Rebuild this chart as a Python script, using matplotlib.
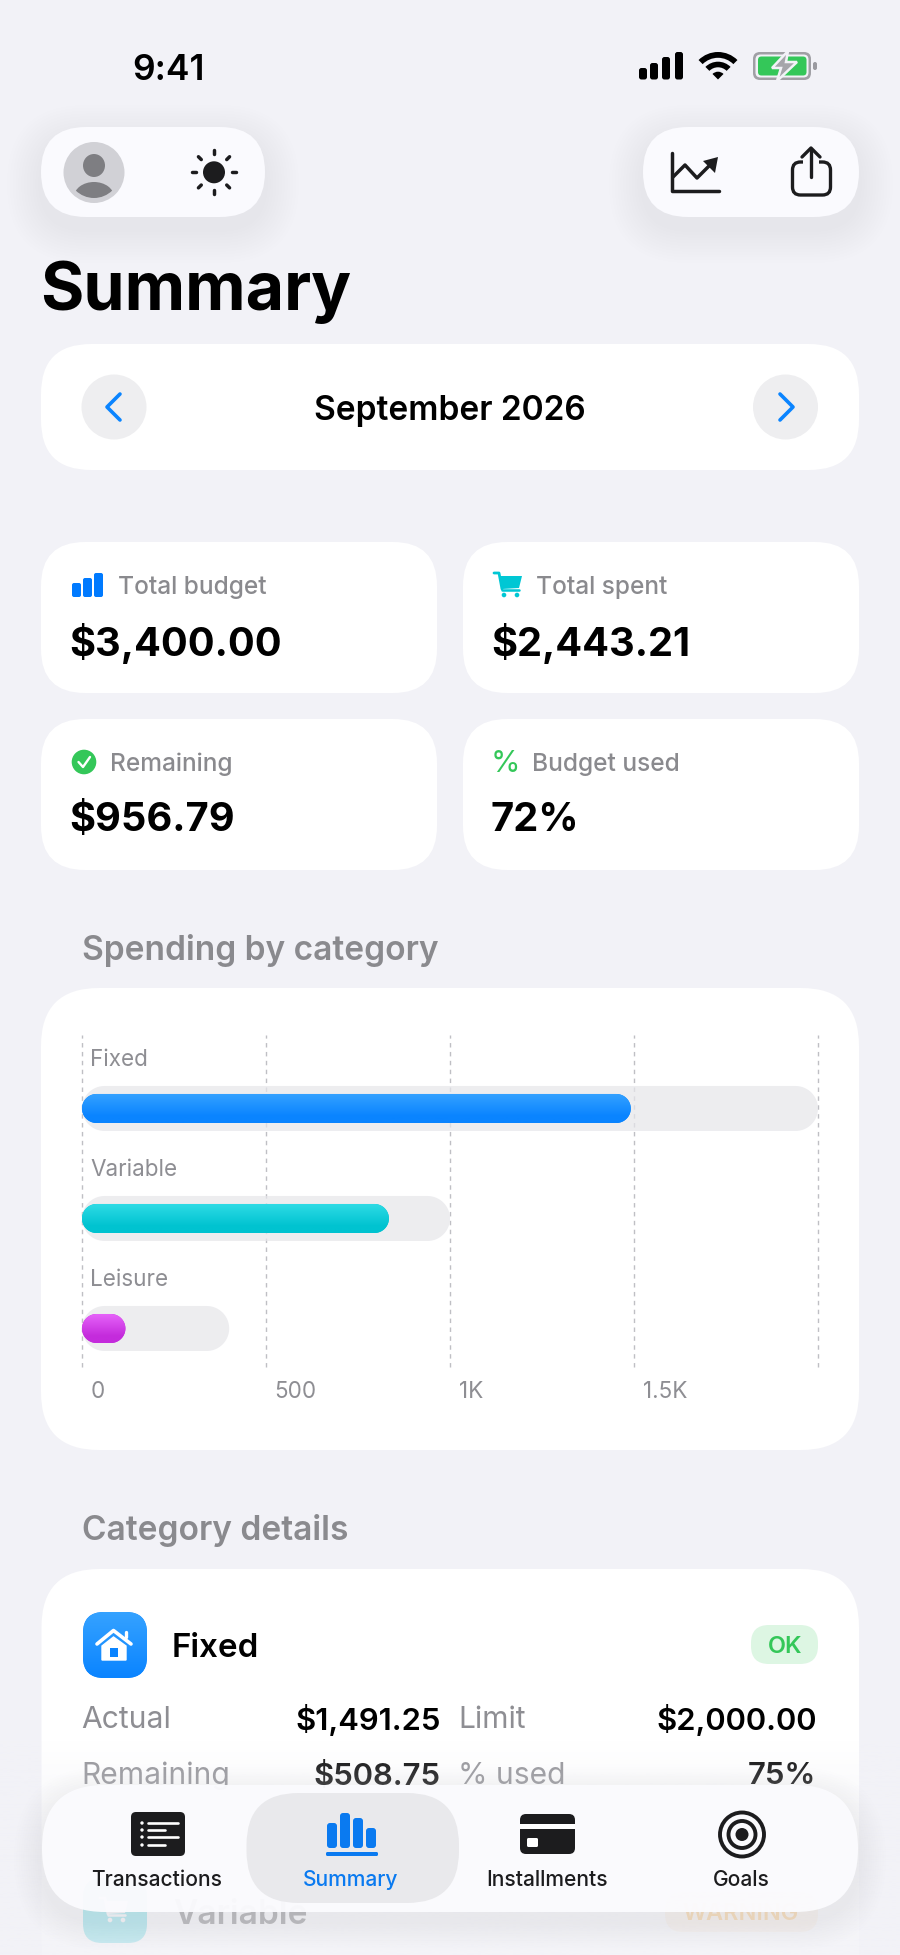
import numpy as np
import matplotlib
matplotlib.use('Agg')
import matplotlib.pyplot as plt
from matplotlib.patches import FancyBboxPatch, Circle, Ellipse, Wedge, Polygon
from matplotlib.colors import LinearSegmentedColormap
from matplotlib.transforms import ScaledTranslation

plt.rcParams['font.family'] = ['Inter', 'DejaVu Sans']

# chart data
categories = ['Fixed', 'Variable', 'Leisure']
actual = [1491.25, 834.0, 117.96]
limits = [2000, 1000, 400]
tick_values = [0, 500, 1000, 1500, 2000]
tick_labels = ['0', '500', '1K', '1.5K', '']
bar_colors = [('#35A2FF', '#0A84FF'), ('#30DCE6', '#00C3D0'), ('#E765FA', '#C42BDC')]

# summary cards
card_labels = ['Total budget', 'Total spent', 'Remaining', 'Budget used']
card_values = ['$3,400.00', '$2,443.21', '$956.79', '72%']

# detail rows
detail_left = [('Actual', '$1,491.25'), ('Remaining', '$508.75')]
detail_right = [('Limit', '$2,000.00'), ('% used', '75%')]
tabs = ['Transactions', 'Summary', 'Installments', 'Goals']

BG = '#F2F2F7'
BLUE = '#0A84FF'
TEAL = '#00C7D4'
GREEN = '#34C759'
INK = '#1C1C1E'
GRAY = '#8E8E93'
LABEL = '#8A8A8E'
PILL = '#FAFAFE'

fig = plt.figure(figsize=(9, 19.55), dpi=100, facecolor=BG)
ui = fig.add_axes([0, 0, 1, 1])
ui.set_xlim(0, 900)
ui.set_ylim(1955, 0)
ui.axis('off')


def rrect(x0, y0, x1, y1, r, fc, z=2, alpha=None):
    p = FancyBboxPatch((x0, y0), x1 - x0, y1 - y0, boxstyle=f'round,pad=0,rounding_size={r}',
                       fc=fc, ec='none', zorder=z, alpha=alpha)
    ui.add_patch(p)
    return p


def shadow(x0, y0, x1, y1, r, dy=12, z=1, reach=34):
    for i in range(12):
        g = reach * (1 - i / 12)
        rrect(x0 - g, y0 + dy - g, x1 + g, y1 + dy + g, r + g, '#000000', z=z, alpha=0.0022)


def txt(x, y, s, px, color='black', weight='normal', ha='left', z=5):
    return ui.text(x, y, s, fontsize=px * 0.72, color=color, fontweight=weight, ha=ha,
                   va='center_baseline', zorder=z)


def line(xs, ys, color=INK, lw=2.5, z=5, cap='round'):
    ui.plot(xs, ys, color=color, lw=lw, zorder=z, solid_capstyle=cap, solid_joinstyle='round')


def cart(x, y, s, color, z=5):
    # x,y is the top-left of a 28 wide cart
    line([x, x + 5 * s, x + 8 * s], [y, y, y + 16 * s], color, 2.0 * s, z)
    ui.add_patch(Polygon([[x + 5 * s, y + 3 * s], [x + 28 * s, y + 3 * s], [x + 25 * s, y + 15 * s],
                          [x + 8 * s, y + 16 * s]], fc=color, ec='none', zorder=z))
    line([x + 8 * s, x + 25 * s], [y + 17 * s, y + 17 * s], color, 1.8 * s, z)
    ui.add_patch(Circle((x + 10 * s, y + 22 * s), 2.3 * s, fc=color, ec='none', zorder=z))
    ui.add_patch(Circle((x + 23 * s, y + 22 * s), 2.3 * s, fc=color, ec='none', zorder=z))


# status bar
txt(132, 66.5, '9:41', 35.5, 'black', 'semibold')
for bx, top in zip([639, 650, 662, 675], [68, 63, 57, 52]):
    rrect(bx, top, bx + 8, 79.5, 2.5, 'black')
ui.add_patch(Wedge((718, 79.5), 27.5, 225, 315, width=5.8, fc='black', ec='none', zorder=5))
ui.add_patch(Wedge((718, 79.5), 17.8, 225, 315, width=5.6, fc='black', ec='none', zorder=5))
ui.add_patch(Wedge((718, 79.5), 7.8, 225, 315, fc='black', ec='none', zorder=5))
rrect(753, 52, 811, 80, 7, '#A0A0A5')
rrect(755.5, 54.5, 808.5, 77.5, 5, BG, z=3)
rrect(758, 56.5, 806.5, 75.5, 3.5, GREEN, z=4)
rrect(813, 62, 817, 70, 2, '#9A9AA0')
ui.add_patch(Polygon([[788, 51], [772, 68], [781, 68], [777, 81], [797, 62], [786, 62]],
                     fc='#A5A5AA', ec=BG, lw=1.8, zorder=5))

# top pills
shadow(41, 127, 265, 217, 45)
shadow(643, 127, 859, 217, 45)
rrect(41, 127, 265, 217, 45, PILL)
rrect(643, 127, 859, 217, 45, PILL)
ui.add_patch(Circle((94, 172.5), 30.5, fc='#D1D1D6', ec='none', zorder=3))
ui.add_patch(Ellipse((94, 165.5), 22, 23, fc='#7E7E82', ec='none', zorder=4))
shoulders = Ellipse((94, 197), 40, 30, fc='#7E7E82', ec='none', zorder=4)
ui.add_patch(shoulders)
shoulders.set_clip_path(Circle((94, 172), 26, transform=ui.transData))
ui.add_patch(Circle((214, 172.3), 11, fc=INK, ec='none', zorder=4))
for a in np.arange(0, 360, 45):
    ca, sa = np.cos(np.radians(a)), np.sin(np.radians(a))
    line([214 + 18 * ca, 214 + 22 * ca], [172.3 + 18 * sa, 172.3 + 22 * sa], INK, 2.5)
line([672, 672, 719], [153, 191, 191], INK, 2.5)
line([673, 685, 697, 710], [177, 165, 178, 165], INK, 2.5)
ui.add_patch(Polygon([[718, 157], [703, 161], [715, 173]], fc=INK, ec='none', zorder=5))
share = FancyBboxPatch((792.5, 162), 38, 33, boxstyle='round,pad=0,rounding_size=8', fc='none', ec=INK, lw=2.4, zorder=5)
ui.add_patch(share)
line([803, 819], [162, 162], PILL, 4, z=6, cap='butt')
line([811, 811], [149, 177], INK, 2.4, z=7)
line([802, 811, 820], [157, 148, 157], INK, 2.4, z=7)

# title and month switcher
txt(40, 285.5, 'Summary', 66.4, 'black', 'bold')
rrect(41, 344, 859, 470, 50, 'white')
ui.add_patch(Circle((114, 407), 32.5, fc='#EEEEF0', ec='none', zorder=3))
ui.add_patch(Circle((785.5, 407), 32.5, fc='#EEEEF0', ec='none', zorder=3))
line([120, 107, 120], [394, 407, 420], BLUE, 2.6)
line([780, 793, 780], [394, 407, 420], BLUE, 2.6)
txt(450, 407, 'September 2026', 33.5, 'black', 'semibold', ha='center')

# summary cards
card_x = [(41, 437), (463, 859), (41, 437), (463, 859)]
card_y = [(542, 693), (542, 693), (719, 870), (719, 870)]
label_x = [118.5, 536.5, 110.5, 531.5]
value_x = [69.5, 491, 69.5, 491]
for i in range(4):
    rrect(card_x[i][0], card_y[i][0], card_x[i][1], card_y[i][1], 44, 'white')
    txt(label_x[i], card_y[i][0] + 43, card_labels[i], 24.5, LABEL, 'medium')
    txt(value_x[i], card_y[i][0] + 97.5, card_values[i], 39.8, 'black', 'bold')
for bx, top in zip([72, 83, 94], [583, 578, 573]):
    rrect(bx, top, bx + 9, 597, 2, '#007AFF')
cart(494, 573, 1.0, TEAL)
ui.add_patch(Circle((84, 762), 12.3, fc=GREEN, ec='none', zorder=5))
line([78.5, 83, 90], [762, 767, 757], 'white', 1.7, z=6)
txt(491, 761, '%', 30, GREEN, 'normal')

# chart card
txt(82, 946.5, 'Spending by category', 33.5, LABEL, 'semibold')
rrect(41, 988, 859, 1450, 58, 'white')

# details card
txt(82, 1527, 'Category details', 33.5, LABEL, 'semibold')
rrect(41.5, 1569, 859, 2100, 58, 'white')
icon = rrect(83, 1612, 147, 1678, 21, BLUE, z=3)
grad = LinearSegmentedColormap.from_list('g', ['#35A2FF', '#0A84FF'])
im = ui.imshow(np.linspace(0, 1, 64).reshape(-1, 1), cmap=grad, extent=(83, 147, 1678, 1612),
               aspect='auto', zorder=3)
im.set_clip_path(icon)
ui.set_xlim(0, 900)
ui.set_ylim(1955, 0)
line([97, 113.5, 131], [1644, 1630.5, 1644], 'white', 2.6)
line([126, 126], [1632, 1637], 'white', 2.4)
ui.add_patch(Polygon([[102, 1646], [113.5, 1637], [126, 1646], [126, 1660], [102, 1660]], fc='white', ec='white', lw=1, zorder=5))
ui.add_patch(Polygon([[110, 1648], [118, 1648], [118, 1657], [110, 1657]], fc=BLUE, ec='none', zorder=6))
txt(172, 1645, 'Fixed', 33.2, 'black', 'semibold')
rrect(751, 1625, 818, 1664, 18, '#DDF6E3')
txt(785, 1644.5, 'OK', 23.5, GREEN, 'semibold', ha='center')
for (a, b), (c, d), y in zip(detail_left, detail_right, [1717, 1773]):
    txt(81.5, y, a, 30, GRAY)
    txt(440.5, y, b, 31, 'black', 'semibold', ha='right')
    txt(458, y, c, 30, GRAY)
    txt(816.5, y, d, 31, 'black', 'semibold', ha='right')

# second detail row, mostly under the tab bar
rrect(83, 1878, 147, 1943, 19, TEAL, z=3)
cart(100, 1898, 1.0, 'white')
txt(173, 1912, 'Variable', 33.5, 'black', 'semibold')
rrect(665, 1892, 818, 1932, 18, '#FFEBD2')
txt(741, 1911, 'WARNING', 23.5, '#FF9500', 'semibold', ha='center')

# fade over the scrolling content
fade = np.zeros((256, 1, 4))
fade[:, :, :3] = matplotlib.colors.to_rgb(BG)
fade[:, 0, 3] = np.interp(np.linspace(1740, 1955, 256), [1740, 1785, 1880, 1955], [0, 0.3, 0.76, 0.85])
ui.imshow(fade, extent=(0, 900, 1955, 1740), aspect='auto', zorder=7)
ui.set_xlim(0, 900)
ui.set_ylim(1955, 0)

# tab bar
shadow(42, 1785, 858, 1912, 63, dy=10, z=8, reach=28)
rrect(42, 1785, 858, 1912, 63, '#FBFBFE', z=9, alpha=0.96)
rrect(246.5, 1793, 459, 1903, 52, '#E9E9EC', z=10)
for name, cx, col in zip(tabs, [156.5, 351, 547, 741], [INK, '#0A7AF0', INK, INK]):
    txt(cx, 1878, name, 21, col, 'medium', ha='center', z=12)
rrect(131, 1812, 185, 1856, 5, INK, z=11)
for ly, end in zip([1823, 1830, 1837, 1845], [178, 165, 178, 165]):
    line([148, end], [ly, ly], 'white', 1.9, z=12)
    ui.add_patch(Circle((142, ly), 1.7, fc='white', ec='none', zorder=12))
for bx, top in zip([327, 340, 353, 366], [1823, 1813, 1818, 1828]):
    rrect(bx, top, bx + 10, 1848, 3, '#0A7AF0', z=11)
rrect(326, 1852, 378, 1856, 1.5, '#0A7AF0', z=11)
rrect(520, 1814, 575, 1854, 6, INK, z=11)
ui.fill_between([520, 575], 1824, 1829, color='white', zorder=12, lw=0)
rrect(527, 1838, 538, 1847, 1.5, 'white', z=12)
ui.add_patch(Circle((742, 1834.5), 22, fc='none', ec=INK, lw=2.8, zorder=11))
ui.add_patch(Circle((742, 1834.5), 13.5, fc='none', ec=INK, lw=2.8, zorder=11))
ui.add_patch(Circle((742, 1834.5), 6.5, fc=INK, ec='none', zorder=11))

# the actual chart, real axes over the card
W, H = 900, 1955
ax = fig.add_axes([82 / W, 1 - 1367 / H, (818 - 82) / W, (1367 - 1035) / H])
ax.patch.set_alpha(0)
ax.set_xlim(0, 2000)
ax.set_ylim(2.35, -0.668)
for s in ax.spines.values():
    s.set_visible(False)
ax.set_yticks([])
ax.set_xticks(tick_values, tick_labels)
ax.tick_params(axis='x', length=0, pad=10, labelsize=22.5 * 0.72, labelcolor=GRAY)
off = ScaledTranslation(8.5 / 100, 0, fig.dpi_scale_trans)
for lab in ax.get_xticklabels():
    lab.set_ha('left')
    lab.set_transform(lab.get_transform() + off)
ax.grid(axis='x', color='#BFBFC4', lw=1.0, ls=(0, (3.2, 3.2)), zorder=1, clip_on=False)
ax.set_axisbelow(True)

x_per_px = 500 / 184
y_per_px = 1 / 110
aspect = y_per_px / x_per_px


def pill_points(value, row, half_px, r_px):
    # outline of a rounded bar, in data units of the chart axes
    t = np.linspace(-np.pi / 2, np.pi / 2, 40)
    rx = r_px * x_per_px
    right = np.c_[value - rx + rx * np.cos(t), row + half_px * y_per_px * np.sin(t)]
    left = np.c_[rx - rx * np.cos(t[::-1]), row + half_px * y_per_px * np.sin(t[::-1])]
    return np.r_[right, left]


for i, name in enumerate(categories):
    ax.annotate(name, (0, i), xytext=(8, 51), textcoords='offset pixels', fontsize=22.5 * 0.72,
                color=GRAY, va='center_baseline', annotation_clip=False)
    ax.add_patch(Polygon(pill_points(limits[i], i, 22.5, 22.5), fc='#E6E6EA', ec='none', alpha=0.72, zorder=2))
    bar_box = Polygon(pill_points(actual[i], i, 14.5, 14.5), fc=bar_colors[i][1], ec='none', zorder=3)
    ax.add_patch(bar_box)
    cm = LinearSegmentedColormap.from_list('b', bar_colors[i])
    g = ax.imshow(np.clip(np.linspace(0, 1.3, 64), 0, 1).reshape(-1, 1), cmap=cm,
                  extent=(0, actual[i], i + 14.5 * y_per_px, i - 14.5 * y_per_px),
                  aspect='auto', zorder=4)
    g.set_clip_path(bar_box)
ax.set_xlim(0, 2000)
ax.set_ylim(2.35, -0.668)

fig.savefig('out.png', dpi=100, facecolor=BG)
